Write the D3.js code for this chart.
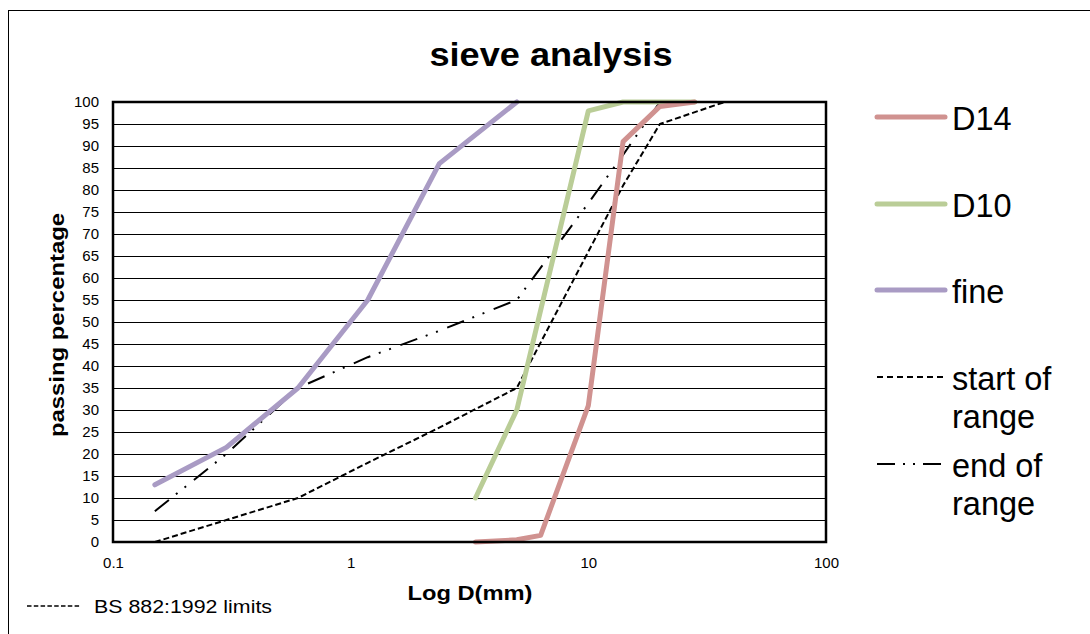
<!DOCTYPE html>
<html>
<head>
<meta charset="utf-8">
<script src="https://cdn.jsdelivr.net/npm/d3@7"></script>
<style>
  html, body { margin: 0; padding: 0; background: #fff; }
  svg { display: block; font-family: Arial, "Liberation Sans", sans-serif; }
</style>
</head>
<body>
<svg id="chart" width="1090" height="634"></svg>
<script>
// ---- data ----
const fineX = [0.15, 0.3, 0.6, 1.18, 2.36, 5];
const fineY = [13, 21.5, 35, 55, 86, 100];
const d10X = [3.35, 5, 10, 14, 20, 28];
const d10Y = [10, 30, 98, 100, 100, 100];
const d14X = [3.35, 5, 6.3, 10, 14, 20, 28];
const d14Y = [0, 0.5, 1.5, 31, 91, 99, 100];
const startX = [0.15, 0.3, 0.6, 1.18, 2.36, 5, 10, 14, 20, 37.5];
const startY = [0, 5, 10, 18, 26, 35, 66, 81, 95, 100];
const endX = [0.15, 0.3, 0.6, 1.18, 2.36, 5, 10, 14, 20];
const endY = [7, 20, 35, 42, 48, 55, 77, 88, 100];
const xTicks = [0.1, 1, 10, 100];
const xTickLabels = ["0.1", "1", "10", "100"];
const yTicks = d3.range(0, 101, 5);

const series = [
  { name: ["D14"], xs: d14X, ys: d14Y, color: "#d09290", width: 5, dash: null },
  { name: ["D10"], xs: d10X, ys: d10Y, color: "#bacd97", width: 5, dash: null },
  { name: ["fine"], xs: fineX, ys: fineY, color: "#a99bc4", width: 5, dash: null },
  { name: ["start of", "range"], xs: startX, ys: startY, color: "#000", width: 2, dash: "6,3" },
  { name: ["end of", "range"], xs: endX, ys: endY, color: "#000", width: 2, dash: "18,9,2,9,2,10" }
];

// ---- layout ----
const svg = d3.select("#chart");
const L = 113, R = 826, T = 102, B = 542;

// outer chart border (extends past right/bottom edges)
svg.append("rect").attr("x", 8.5).attr("y", 10.5).attr("width", 1200).attr("height", 800)
  .attr("fill", "#fff").attr("stroke", "#000").attr("stroke-width", 1);

const x = d3.scaleLog().domain([0.1, 100]).range([L, R]);
const y = d3.scaleLinear().domain([0, 100]).range([B, T]);

// title
svg.append("text").attr("x", 551).attr("y", 66).attr("text-anchor", "middle")
  .attr("font-size", 33).attr("font-weight", "bold")
  .attr("textLength", 243).attr("lengthAdjust", "spacingAndGlyphs")
  .text("sieve analysis");

// gridlines
svg.append("g").selectAll("line").data(yTicks.filter(d => d > 0 && d < 100)).join("line")
  .attr("x1", L).attr("x2", R).attr("y1", d => y(d)).attr("y2", d => y(d))
  .attr("stroke", "#000").attr("stroke-width", 1).attr("shape-rendering", "crispEdges");

// y axis labels
const yAxis = d3.axisLeft(y).tickValues(yTicks).tickSize(0).tickPadding(14);
const gy = svg.append("g").attr("transform", `translate(${L},0)`).call(yAxis);
gy.select(".domain").remove();
gy.selectAll("text").attr("font-size", 15).attr("font-family", "Arial, 'Liberation Sans', sans-serif").attr("fill", "#000");

// x axis labels
const xAxis = d3.axisBottom(x).tickValues(xTicks).tickFormat((d, i) => xTickLabels[i]).tickSize(0).tickPadding(15);
const gx = svg.append("g").attr("transform", `translate(0,${B})`).call(xAxis);
gx.select(".domain").remove();
gx.selectAll("text").attr("font-size", 15).attr("font-family", "Arial, 'Liberation Sans', sans-serif").attr("fill", "#000");

// series lines
svg.append("defs").append("clipPath").attr("id", "clip")
  .append("rect").attr("x", L - 4).attr("y", T - 3).attr("width", R - L + 8).attr("height", B - T + 6);
const line = d3.line().x(d => x(d[0])).y(d => y(d[1]));
const gl = svg.append("g").attr("clip-path", "url(#clip)");
series.slice().reverse().forEach(s => {
  const pts = s.xs.map((v, i) => [v, s.ys[i]]);
  gl.append("path").attr("d", line(pts)).attr("fill", "none")
    .attr("stroke", s.color).attr("stroke-width", s.width)
    .attr("stroke-linejoin", "round")
    .attr("stroke-linecap", s.dash ? "butt" : "round")
    .attr("stroke-dasharray", s.dash);
});

// plot border
svg.append("rect").attr("x", L).attr("y", T).attr("width", R - L).attr("height", B - T)
  .attr("fill", "none").attr("stroke", "#000").attr("stroke-width", 2.5);

// axis titles
svg.append("text").attr("x", 470).attr("y", 600).attr("text-anchor", "middle")
  .attr("font-size", 21).attr("font-weight", "bold")
  .attr("textLength", 125).attr("lengthAdjust", "spacingAndGlyphs")
  .text("Log D(mm)");
svg.append("text").attr("transform", "translate(64,325) rotate(-90)").attr("text-anchor", "middle")
  .attr("font-size", 20).attr("font-weight", "bold")
  .attr("textLength", 224).attr("lengthAdjust", "spacingAndGlyphs")
  .text("passing percentage");

// legend
const legY = [117, 204, 290, 377, 464];
series.forEach((s, i) => {
  const g = svg.append("g");
  g.append("line").attr("x1", 877).attr("x2", 945).attr("y1", legY[i]).attr("y2", legY[i])
    .attr("stroke", s.color).attr("stroke-width", s.dash ? 2 : 5)
    .attr("stroke-linecap", s.dash ? "butt" : "round")
    .attr("stroke-dasharray", s.dash ? (i === 3 ? "6,4" : "18,8,2,8,2,8") : null);
  s.name.forEach((t, j) => {
    g.append("text").attr("x", 952).attr("y", legY[i] + 13 + j * 38)
      .attr("font-size", 32.5).text(t);
  });
});

// bottom note
svg.append("line").attr("x1", 27).attr("x2", 80).attr("y1", 606).attr("y2", 606)
  .attr("stroke", "#000").attr("stroke-width", 1.3).attr("stroke-dasharray", "4.5,2.3");
svg.append("text").attr("x", 94).attr("y", 613).attr("font-size", 18)
  .attr("textLength", 178).attr("lengthAdjust", "spacingAndGlyphs")
  .text("BS 882:1992 limits");
</script>
</body>
</html>
